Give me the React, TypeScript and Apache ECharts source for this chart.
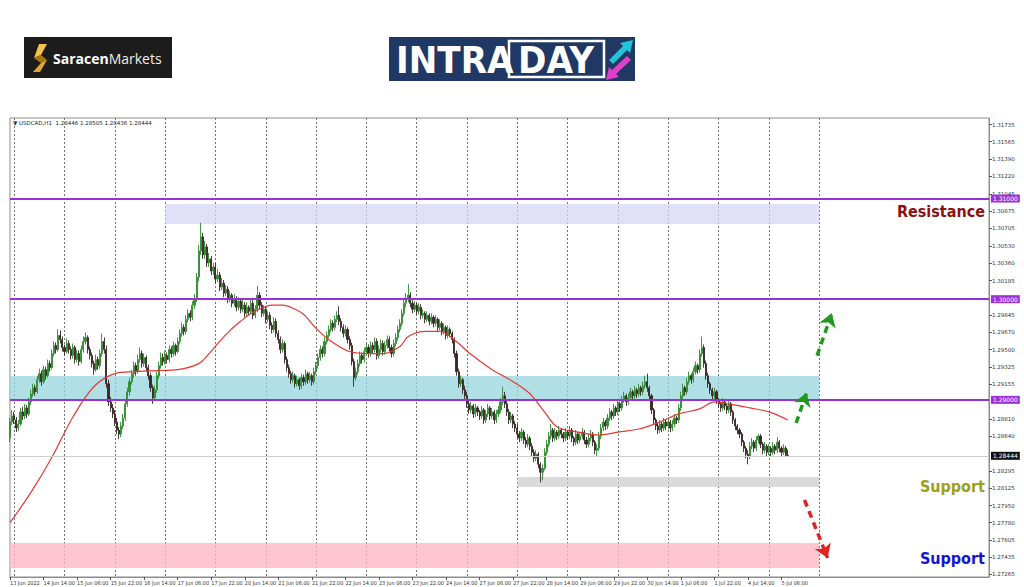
import React, { useEffect, useRef } from "react";
import * as echarts from "echarts";

// ---------- DATA ----------
const timeLabels = [
  "13 Jun 2022", "14 Jun 14:00", "15 Jun 06:00", "15 Jun 22:00", "16 Jun 14:00", "17 Jun 06:00",
  "17 Jun 22:00", "20 Jun 14:00", "21 Jun 06:00", "21 Jun 22:00", "22 Jun 14:00", "23 Jun 06:00",
  "23 Jun 22:00", "24 Jun 14:00", "27 Jun 06:00", "27 Jun 22:00", "28 Jun 14:00", "29 Jun 06:00",
  "29 Jun 22:00", "30 Jun 14:00", "1 Jul 06:00", "1 Jul 22:00", "4 Jul 14:00", "5 Jul 06:00",
];
const BARS_PER_LABEL = 16;
const SLOT_COUNT = 468; // hourly slots on the axis (incl. empty future space)
const dayStartBars = [2, 26, 50, 74, 98, 122, 146, 170, 194, 218, 242, 266, 290, 314, 338, 362, 386];

const priceTicks = [
  1.27265, 1.27435, 1.27605, 1.2778, 1.2795, 1.28125, 1.28295, 1.2864, 1.2881, 1.29155, 1.29325,
  1.295, 1.2967, 1.29845, 1.30185, 1.3036, 1.3053, 1.30705, 1.30875, 1.31045, 1.3122, 1.3139,
  1.31565, 1.31735,
];
const levelLines = [1.31, 1.3, 1.29];
const lastPrice = 1.28444;

// zones: [fromBar, toBar, upperPrice, lowerPrice]
const resistanceZone = [74, 386, 1.30946, 1.30747];
const pivotZone = [0, 386, 1.29237, 1.29];
const supportZone1 = [242, 386, 1.28233, 1.28134];
const supportZone2 = [0, 386, 1.27578, 1.2733];

// hourly candles [open, high, low, close] in pips above 1.28000
const d0613 = [[62,82,58,78],[78,90,75,84]];
const d0614 = [[84,88,76,80],[80,83,68,72],[72,80,69,76],[76,92,74,88],[88,93,80,84],[84,96,81,92],[92,95,82,86],[86,102,84,98],[98,110,95,106],[106,116,103,112],[112,115,104,108],[108,124,106,120],[120,131,117,126],[126,129,114,118],[118,134,116,130],[130,133,120,124],[124,140,122,136],[136,139,128,132],[132,150,130,146],[146,158,143,154],[154,157,146,150],[150,170,148,164],[164,169,156,160],[160,163,148,152]];
const d0615 = [[152,155,144,148],[148,161,146,156],[156,159,146,150],[150,153,140,144],[144,156,141,152],[152,154,136,140],[140,150,137,146],[146,149,134,138],[138,154,136,150],[150,163,147,158],[158,167,155,162],[162,164,146,150],[150,153,140,144],[144,147,132,136],[136,139,125,130],[130,145,128,140],[140,143,130,134],[134,150,131,146],[146,166,143,158],[158,162,146,150],[150,154,112,116],[116,120,94,98],[98,103,88,92],[92,96,82,86]];
const d0616 = [[86,90,74,78],[78,82,66,70],[70,73,61,66],[66,78,63,74],[74,86,71,82],[82,100,79,96],[96,112,93,108],[108,122,104,118],[118,130,115,126],[126,138,122,134],[134,137,124,128],[128,145,126,140],[140,152,137,146],[146,149,132,136],[136,146,133,142],[142,144,128,132],[132,135,120,124],[124,127,108,112],[112,115,96,102],[102,114,99,110],[110,128,107,124],[124,138,121,134],[134,147,131,142],[142,146,134,138]];
const d0617 = [[138,149,135,144],[144,147,136,140],[140,154,137,150],[150,153,142,146],[146,158,143,154],[154,156,144,148],[148,162,146,158],[158,170,155,166],[166,177,163,172],[172,175,164,168],[168,184,165,180],[180,190,177,186],[186,189,178,182],[182,198,179,194],[194,205,190,200],[200,226,197,222],[222,254,218,248],[248,276,244,262],[262,266,240,244],[244,258,240,252],[252,255,232,236],[236,246,232,240],[240,243,224,228],[228,236,224,232]];
const d0620 = [[232,236,216,220],[220,230,217,224],[224,227,208,212],[212,221,209,216],[216,219,202,206],[206,214,203,210],[210,213,196,200],[200,208,197,204],[204,206,192,196],[196,205,193,200],[200,203,188,192],[192,202,189,198],[198,200,186,190],[190,199,187,194],[194,197,182,186],[186,197,183,192],[192,194,184,188],[188,201,185,196],[196,199,180,184],[184,194,181,190],[190,213,187,204],[204,207,190,194],[194,197,182,186],[186,194,183,190]];
const d0621 = [[190,193,176,180],[180,188,177,184],[184,187,170,174],[174,177,166,170],[170,182,167,178],[178,181,162,166],[166,169,156,160],[160,163,146,150],[150,160,147,156],[156,158,136,140],[140,143,128,132],[132,135,122,126],[126,129,116,120],[120,128,117,124],[124,126,112,116],[116,124,113,120],[120,122,110,114],[114,126,111,122],[122,125,114,118],[118,130,115,126],[126,128,116,120],[120,128,117,124],[124,126,114,118],[118,132,115,128]];
const d0622 = [[128,138,125,134],[134,146,131,142],[142,154,139,150],[150,153,142,146],[146,162,143,158],[158,168,155,164],[164,174,161,170],[170,180,167,176],[176,179,168,172],[172,184,169,180],[180,188,177,184],[184,193,174,178],[178,181,168,172],[172,175,162,166],[166,174,163,170],[170,172,156,160],[160,163,150,154],[154,157,134,138],[138,141,113,122],[122,132,119,128],[128,140,125,136],[136,148,133,144],[144,147,136,140],[140,152,137,148]];
const d0623 = [[148,156,145,152],[152,155,142,146],[146,158,143,154],[154,157,146,150],[150,162,147,158],[158,161,140,144],[144,154,141,150],[150,160,147,156],[156,159,144,148],[148,158,145,154],[154,164,151,160],[160,163,148,152],[152,155,142,146],[146,160,143,156],[156,166,153,162],[162,174,159,170],[170,180,167,176],[176,190,173,186],[186,200,183,196],[196,206,192,200],[200,215,197,204],[204,207,192,196],[196,199,186,190],[190,198,187,194]];
const d0624 = [[194,197,184,188],[188,196,185,192],[192,195,180,184],[184,190,181,186],[186,188,176,180],[180,188,177,184],[184,186,174,178],[178,186,175,182],[182,184,172,176],[176,184,173,180],[180,182,168,172],[172,180,169,176],[176,178,164,168],[168,176,165,172],[172,174,160,164],[164,174,161,170],[170,172,162,166],[166,168,156,160],[160,162,142,146],[146,149,124,128],[128,131,112,116],[116,124,113,120],[120,122,106,110],[110,114,100,104]];
const d0627 = [[104,108,92,96],[96,99,86,90],[90,98,87,94],[94,96,82,86],[86,96,83,92],[92,94,84,88],[88,90,80,84],[84,94,81,90],[90,92,76,80],[80,90,77,86],[86,96,83,92],[92,94,80,84],[84,92,81,88],[88,90,76,80],[80,90,77,86],[86,94,83,90],[90,102,87,98],[98,113,95,104],[104,108,92,96],[96,99,84,88],[88,91,76,80],[80,88,77,84],[84,86,72,76],[76,79,68,72]];
const d0628 = [[72,76,62,66],[66,69,58,62],[62,72,59,68],[68,70,56,60],[60,63,52,56],[56,66,53,62],[62,64,50,54],[54,57,44,48],[48,51,38,42],[42,50,39,46],[46,48,32,36],[36,38,18,28],[28,36,20,32],[32,52,30,48],[48,60,45,56],[56,68,53,64],[64,76,61,70],[70,72,58,62],[62,72,59,68],[68,70,60,64],[64,74,61,70],[70,72,62,66],[66,68,58,62],[62,72,59,68]];
const d0629 = [[68,70,60,64],[64,74,61,70],[70,72,58,62],[62,64,54,58],[58,70,55,66],[66,68,56,60],[60,68,57,64],[64,72,61,68],[68,70,56,60],[60,63,52,56],[56,66,53,62],[62,70,59,66],[66,68,54,58],[58,60,46,50],[50,56,43,52],[52,68,49,64],[64,76,61,72],[72,82,69,78],[78,80,70,74],[74,86,71,82],[82,92,79,88],[88,90,80,84],[84,96,81,92],[92,94,84,88]];
const d0630 = [[88,100,85,96],[96,98,88,92],[92,104,89,100],[100,108,97,104],[104,106,94,98],[98,106,95,102],[102,112,99,108],[108,110,100,104],[104,114,101,110],[110,112,102,106],[106,116,103,112],[112,114,104,108],[108,118,105,114],[114,124,111,118],[118,126,108,112],[112,114,100,104],[104,106,86,90],[90,92,76,80],[80,82,70,74],[74,77,66,70],[70,80,67,76],[76,78,68,72],[72,82,69,78],[78,80,70,74]];
const d0701 = [[74,82,71,78],[78,80,68,72],[72,80,69,76],[76,86,73,82],[82,84,76,80],[80,96,77,92],[92,108,89,104],[104,116,101,112],[112,114,104,108],[108,122,105,118],[118,128,115,124],[124,126,116,120],[120,132,117,128],[128,138,125,134],[134,136,126,130],[130,150,127,146],[146,163,143,152],[152,155,132,136],[136,139,120,124],[124,127,112,116],[116,118,106,110],[110,112,100,104],[104,112,101,108],[108,110,96,100]];
const d0704 = [[100,102,92,96],[96,98,88,92],[92,102,89,98],[98,100,90,94],[94,96,86,90],[90,100,87,96],[96,98,84,88],[88,90,76,80],[80,82,70,74],[74,76,66,70],[70,72,62,66],[66,68,54,58],[58,60,48,52],[52,54,42,46],[46,50,36,44],[44,58,41,54],[54,62,51,58],[58,60,48,52],[52,64,49,60],[60,66,57,64],[64,66,52,56],[56,58,46,50],[50,58,47,54],[54,56,44,48]];
const d0705 = [[48,56,45,52],[52,54,44,48],[48,58,45,54],[54,56,46,50],[50,63,47,58],[58,60,48,52],[52,54,44,48],[48,56,45,52],[52,54,44,44.6],[44.6,50.5,43.6,44.4]];

// moving average: bar index -> pips above 1.28000
const maBars = [0,10,20,30,40,50,60,70,80,90,95,100,105,110,115,120,125,130,135,140,146,152,162,171,178,186,190,198,205,210,220,230,240,248,255,261,271,281,290,300,310,319,329,336,343,353,362,371];
const maPips = [-22,8,43,83,113,126,128,129,130,136,146,158,169,178,186,191,194,194,191,185,171,160,148,146,146,153,163,168,168,163,145,130,118,106,88,73,68,65,68,71,78,86,91,98,96,92,88,80];

// projected arrows: [fromBar, fromPrice, toBar, toPrice]
const upArrow1 = [375, 1.2877, 380, 1.2907];
const upArrow2 = [385, 1.2944, 392, 1.2986];
const downArrow = [379, 1.28005, 390, 1.2743];

// ---------- HELPERS ----------
const toPrice = (p: number) => Math.round((1.28 + p / 10000) * 100000) / 100000;

const NARROW = '"Liberation Sans Narrow", "DejaVu Sans Condensed", "Liberation Sans", Arial, sans-serif';
const SMALL = 'Tahoma, "DejaVu Sans", "Liberation Sans", sans-serif';

export default function App() {
  const ref = useRef<HTMLDivElement>(null);

  useEffect(() => {
    if (!ref.current) return;
    const chart = echarts.init(ref.current, undefined, { renderer: "svg" });

    const days = [d0613, d0614, d0615, d0616, d0617, d0620, d0621, d0622, d0623, d0624, d0627, d0628, d0629, d0630, d0701, d0704, d0705];
    const bars = days.flat();
    const candleData = bars.map(([o, h, l, c]) => [toPrice(o), toPrice(c), toPrice(l), toPrice(h)]);
    const slots = Array.from({ length: SLOT_COUNT }, (_, i) => String(i));
    const maData: (number | null)[] = bars.map(() => null);
    maBars.forEach((b, k) => { maData[b] = toPrice(maPips[k]); });

    const isLabelBar = (i: number) => i % BARS_PER_LABEL === 0 && i / BARS_PER_LABEL < timeLabels.length;
    const isDayStart = (i: number) => dayStartBars.indexOf(i) >= 0;

    const zone = (z: number[], color: string) => [
      { xAxis: z[0], yAxis: z[2], itemStyle: { color } },
      { xAxis: z[1], yAxis: z[3] },
    ];
    const arrow = (a: number[], color: string) => [
      { coord: [a[0], a[1]], symbol: "none", lineStyle: { color, width: 3.5, type: [7, 5] } },
      { coord: [a[2], a[3]], symbol: "arrow", symbolSize: 13 },
    ];
    const lvlLabel = (text: string, bg: string) => ({
      show: true, position: "end", formatter: text, distance: 2,
      backgroundColor: bg, color: "#fff", fontSize: 6, fontFamily: SMALL, padding: [1, 2, 1, 2],
    });

    const option: any = {
      animation: false,
      backgroundColor: "#ffffff",
      textStyle: { fontFamily: SMALL },
      grid: {
        left: 10, right: 35, top: 118, bottom: 10, show: true,
        borderColor: "#8c8c8c", borderWidth: 1, backgroundColor: "transparent",
        outerBoundsMode: "none", containLabel: false,
      },
      xAxis: {
        type: "category", data: slots, boundaryGap: false,
        axisLine: { show: true, lineStyle: { color: "#8c8c8c" } },
        axisTick: { show: true, interval: (i: number) => isLabelBar(i), length: 3, lineStyle: { color: "#555" } },
        axisLabel: {
          interval: (i: number) => isLabelBar(i),
          formatter: (_v: string, i: number) => (isLabelBar(i) ? timeLabels[i / BARS_PER_LABEL] : ""),
          align: "left", fontSize: 5.5, fontFamily: NARROW, color: "#333", margin: 3,
          showMinLabel: true, showMaxLabel: true, hideOverlap: false,
        },
        splitLine: { show: true, interval: (i: number) => isDayStart(i), lineStyle: { color: "#777", type: [2, 2], width: 1 } },
      },
      yAxis: {
        type: "value", position: "right", min: 1.2724, max: 1.318, scale: true,
        axisLine: { show: true, lineStyle: { color: "#8c8c8c" } },
        axisTick: { show: true, customValues: priceTicks, length: 3, lineStyle: { color: "#555" } },
        axisLabel: { customValues: priceTicks, formatter: (v: number) => v.toFixed(5), fontSize: 5.5, color: "#333", margin: 3 },
        splitLine: { show: false },
      },
      series: [
        {
          type: "line", data: [], z: 1, silent: true,
          markArea: {
            silent: true,
            data: [
              zone(resistanceZone, "rgba(214,214,245,0.75)"),
              zone(pivotZone, "rgba(150,212,222,0.75)"),
              zone(supportZone1, "rgba(205,205,205,0.75)"),
              zone(supportZone2, "rgba(255,182,198,0.8)"),
            ],
          },
        },
        {
          type: "candlestick", data: candleData, barWidth: 1.6, z: 3,
          itemStyle: { color: "#2f8f2f", color0: "#3a2626", borderColor: "#2f8f2f", borderColor0: "#3a2626", borderWidth: 0.9 },
        },
        {
          type: "line", data: maData, z: 4, connectNulls: true, smooth: 0.35, showSymbol: false, silent: true,
          lineStyle: { color: "#e53935", width: 1.2 },
          markLine: {
            silent: true, symbol: "none", animation: false, precision: 5,
            label: { show: false },
            data: [
              ...levelLines.map((v) => ({
                yAxis: v, lineStyle: { color: "#9b30d9", width: 2, type: "solid" },
                label: lvlLabel(v.toFixed(5), "#9b30d9"),
              })),
              { yAxis: lastPrice, lineStyle: { color: "#cfcfcf", width: 1, type: "solid" }, label: lvlLabel(lastPrice.toFixed(5), "#111") },
              arrow(upArrow1, "#1f9a1f"),
              arrow(upArrow2, "#1f9a1f"),
              arrow(downArrow, "#e02222"),
            ],
          },
        },
      ],
      graphic: [
        // Saracen Markets logo
        { type: "rect", shape: { x: 24, y: 37, width: 148, height: 41 }, style: { fill: "#1c1c1c" } },
        { type: "polygon", shape: { points: [[39, 44], [47, 44], [41, 55], [34, 58]] }, style: { fill: "#f2c14e" } },
        { type: "polygon", shape: { points: [[34, 58], [41, 55], [47, 60], [41, 63]] }, style: { fill: "#a8780e" } },
        { type: "polygon", shape: { points: [[41, 63], [47, 60], [40, 72], [33, 72]] }, style: { fill: "#e0a82e" } },
        {
          type: "text", x: 53, y: 58,
          style: {
            text: "{a|Saracen}{b|Markets}", verticalAlign: "middle",
            rich: {
              a: { fill: "#ffffff", fontSize: 14, fontWeight: "bold", fontFamily: '"Open Sans", Roboto, sans-serif' },
              b: { fill: "#eeeeee", fontSize: 14, fontWeight: "normal", fontFamily: '"Open Sans", Roboto, sans-serif' },
            },
          },
        },
        // INTRADAY logo
        { type: "rect", shape: { x: 389, y: 37, width: 246, height: 44 }, style: { fill: "#1f3864" } },
        { type: "text", x: 396, y: 60, style: { text: "INTRA", fill: "#fff", fontSize: 38, fontWeight: "bold", fontFamily: NARROW, verticalAlign: "middle" } },
        { type: "rect", shape: { x: 509, y: 41, width: 95, height: 36 }, style: { fill: "none", stroke: "#fff", lineWidth: 2.5 } },
        { type: "text", x: 556, y: 60, style: { text: "DAY", fill: "#fff", fontSize: 38, fontWeight: "bold", fontFamily: NARROW, align: "center", verticalAlign: "middle" } },
        { type: "polygon", shape: { points: [[633, 40], [630, 53], [627, 50], [613, 64], [609, 60], [623, 46], [620, 43]] }, style: { fill: "#23c4d8" } },
        { type: "polygon", shape: { points: [[606, 80], [609, 67], [612, 70], [627, 56], [631, 60], [616, 74], [619, 77]] }, style: { fill: "#e040c8" } },
        // chart caption
        { type: "text", x: 13, y: 122.5, style: { text: "\u25BC USDCAD,H1  1.28446 1.28505 1.28436 1.28444", fill: "#222", fontSize: 5.5, fontFamily: SMALL, verticalAlign: "middle" } },
        // annotations
        { type: "text", x: 985, y: 211, style: { text: "Resistance", fill: "#8b1111", fontSize: 16, fontWeight: "bold", fontFamily: NARROW, align: "right", verticalAlign: "middle" } },
        { type: "text", x: 985, y: 486, style: { text: "Support", fill: "#9e9e1a", fontSize: 16, fontWeight: "bold", fontFamily: NARROW, align: "right", verticalAlign: "middle" } },
        { type: "text", x: 985, y: 558, style: { text: "Support", fill: "#1414d6", fontSize: 16, fontWeight: "bold", fontFamily: NARROW, align: "right", verticalAlign: "middle" } },
      ],
    };

    chart.setOption(option);
    return () => chart.dispose();
  }, []);

  return (
    <div
      ref={ref}
      style={{ position: "absolute", left: 0, top: 0, width: 1024, height: 587, background: "#fff" }}
    />
  );
}
